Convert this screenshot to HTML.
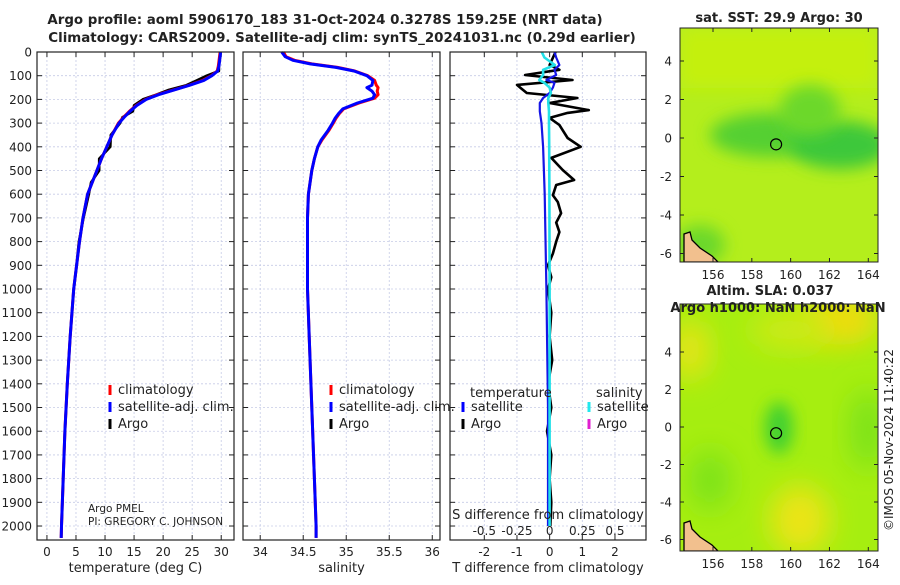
<!DOCTYPE html>
<html><head><meta charset="utf-8">
<style>
html,body{margin:0;padding:0;background:#fff;}
svg text{font-family:"DejaVu Sans","Liberation Sans",sans-serif;fill:#222;}
</style></head>
<body>
<svg id="fig" width="900" height="580" viewBox="0 0 900 580" xmlns="http://www.w3.org/2000/svg">
<defs>
<filter id="blur8" x="-50%" y="-50%" width="200%" height="200%"><feGaussianBlur stdDeviation="8"/></filter>
<filter id="blur14" x="-50%" y="-50%" width="200%" height="200%"><feGaussianBlur stdDeviation="14"/></filter>
<clipPath id="clipMap1"><rect x="680" y="28" width="198" height="234"/></clipPath>
<clipPath id="clipMap2"><rect x="680" y="304" width="198" height="247"/></clipPath>
</defs>
<text x="325" y="24" text-anchor="middle" font-weight="bold" font-size="13.4">Argo profile: aoml 5906170_183 31-Oct-2024 0.3278S 159.25E (NRT data)</text>
<text x="342" y="42" text-anchor="middle" font-weight="bold" font-size="13.4">Climatology: CARS2009. Satellite-adj clim: synTS_20241031.nc (0.29d earlier)</text>
<g id="panels"></g>
<g id="maps"></g>
<text transform="translate(893,440) rotate(-90)" text-anchor="middle" font-size="12">©IMOS 05-Nov-2024 11:40:22</text>
</svg>
<script>
// ---------- data ----------
const profDepth = [0,20,40,60,80,100,120,140,160,180,200,225,250,275,300,350,400,450,500,550,600,700,800,900,1000,1200,1400,1600,1800,2000,2050];
const tempClim  = [29.8,29.7,29.6,29.5,29.3,28.3,26.8,24.5,21.8,19.0,17.0,15.4,14.2,13.2,12.3,11.2,10.3,9.4,8.6,7.8,7.0,6.2,5.6,5.1,4.6,4.0,3.5,3.1,2.8,2.5,2.45];
const tempSat   = [29.9,29.8,29.7,29.6,29.4,28.4,27.0,24.6,21.9,19.2,17.1,15.5,14.3,13.3,12.4,11.2,10.3,9.4,8.6,7.8,7.0,6.2,5.6,5.1,4.6,4.0,3.5,3.1,2.8,2.5,2.45];
const tempArgo  = [29.9,29.8,29.7,29.6,29.6,27.5,25.8,24.0,21.0,18.8,16.5,15.0,14.8,13.0,12.6,11.0,10.9,9.0,9.0,7.6,7.2,6.3,5.5,5.1,4.6,4.0,3.5,3.1,2.8,2.5,2.45];
const salDepth  = [0,20,35,50,65,80,100,120,140,150,165,180,195,215,240,260,280,300,330,370,400,450,500,600,700,800,1000,1200,1500,1800,2000,2050];
const salClim   = [34.27,34.3,34.4,34.6,34.9,35.1,35.25,35.33,35.35,35.37,35.36,35.37,35.33,35.15,34.97,34.92,34.88,34.85,34.8,34.72,34.67,34.63,34.6,34.56,34.55,34.55,34.55,34.57,34.6,34.63,34.65,34.65];
const salSat    = [34.25,34.29,34.38,34.58,34.88,35.09,35.24,35.31,35.3,35.24,35.3,35.33,35.31,35.13,34.96,34.91,34.87,34.84,34.79,34.71,34.67,34.63,34.6,34.56,34.55,34.55,34.55,34.57,34.6,34.63,34.65,34.65];
const diffDepth = [0,55,75,97,118,139,150,173,194,215,245,257,278,308,363,400,447,498,540,561,604,633,680,720,760,800,850,900,950,1000,1100,1200,1300,1400,1500,1600,1700,1800,1900,2000];
const tDiffArgo = [0.18,0,0.3,-0.75,0.7,-1.0,-0.9,-0.7,0.85,0,1.2,0.55,0,0.3,0.55,0.95,0.05,0.4,0.75,0.2,0.1,0.25,0.35,0.2,0.3,0.2,0.1,-0.05,0.05,-0.05,0.05,0,0.08,-0.05,0.05,-0.08,0.05,0,0.05,0.02];
const satDepth  = [0,23,55,75,97,118,130,150,173,194,215,250,300,400,600,1000,1500,2000];
const tDiffSat  = [0.15,0.2,0.3,0.15,0.2,-0.1,0.15,0.1,0,-0.2,-0.3,-0.3,-0.25,-0.2,-0.15,-0.1,-0.05,-0.05];
const sDiffSat  = [-0.06,-0.04,0.04,-0.05,-0.05,-0.08,-0.04,0.0,0.01,-0.01,-0.01,-0.005,-0.005,-0.003,-0.002,0,0,0];
const depthTicks = [0,100,200,300,400,500,600,700,800,900,1000,1100,1200,1300,1400,1500,1600,1700,1800,1900,2000];
const tempTicks = [0,5,10,15,20,25,30];
const salTicks = [34,34.5,35,35.5,36];
const tdTicks = [-2,-1,0,1,2];
const sdTicks = [-0.5,-0.25,0,0.25,0.5];
const sdTickLabels = ["-0.5","-0.25","0","0.25","0.5"];
const latTicks = [4,2,0,-2,-4,-6];
const lonTicks = [156,158,160,162,164];

const NS="http://www.w3.org/2000/svg";
function mk(tag, attrs, parent){const e=document.createElementNS(NS,tag);for(const k in attrs)e.setAttribute(k,attrs[k]);parent.appendChild(e);return e;}
const Y0=52, Y1=540, DMAX=2059;
const ys = d => Y0 + d*(Y1-Y0)/DMAX;
function lin(d0,d1,r0,r1){return v=>r0+(v-d0)*(r1-r0)/(d1-d0);}

const panels=document.getElementById('panels');
const P=[
 {x0:37,x1:234,sc:lin(-1.71,32.2,37,234),ticks:tempTicks,name:'temperature-panel',title:'temperature (deg C)'},
 {x0:243,x1:440,sc:lin(33.8,36.09,243,440),ticks:salTicks,name:'salinity-panel',title:'salinity'},
 {x0:450,x1:646,sc:lin(-3.05,2.95,450,646),ticks:tdTicks,name:'difference-panel',title:'T difference from climatology'}
];
function path(xs, ds, sc, col, w, g, name){
  let d=''; for(let i=0;i<xs.length;i++){d+=(i?'L':'M')+sc(xs[i]).toFixed(1)+','+ys(ds[i]).toFixed(1);}
  const p=mk('path',{d:d,fill:'none',stroke:col,'stroke-width':w,'stroke-linejoin':'round'},g);
  
  
  return p;
}
P.forEach((p,pi)=>{
  const g=mk('g',{},panels);
  
  
  depthTicks.forEach(d=>{ if(d>0) mk('line',{x1:p.x0,x2:p.x1,y1:ys(d),y2:ys(d),stroke:'#c6cbe6','stroke-width':0.8,'stroke-dasharray':'2,2'},g);});
  p.ticks.forEach(t=>{ mk('line',{x1:p.sc(t),x2:p.sc(t),y1:Y0,y2:Y1,stroke:'#c6cbe6','stroke-width':0.8,'stroke-dasharray':'2,2'},g);});
  depthTicks.forEach(d=>{ mk('line',{x1:p.x0,x2:p.x0+5,y1:ys(d),y2:ys(d),stroke:'#222'},g); mk('line',{x1:p.x1,x2:p.x1-5,y1:ys(d),y2:ys(d),stroke:'#222'},g);});
  p.ticks.forEach(t=>{
    mk('line',{x1:p.sc(t),x2:p.sc(t),y1:Y1,y2:Y1-5,stroke:'#222'},g);
    mk('line',{x1:p.sc(t),x2:p.sc(t),y1:Y0,y2:Y0+5,stroke:'#222'},g);
    const tl=mk('text',{x:p.sc(t),y:556,'text-anchor':'middle','font-size':12},g); tl.textContent=String(t);
    
    
  });
  const xt=mk('text',{x:(p.x0+p.x1)/2,y:572,'text-anchor':'middle','font-size':13},g); xt.textContent=p.title;
  
  
  p.g=g;
});
depthTicks.forEach(d=>{
  const t=mk('text',{x:32,y:ys(d)+4.5,'text-anchor':'end','font-size':12},panels); t.textContent=String(d);
  
  
});
path(tempArgo,profDepth,P[0].sc,'#000',2.6,P[0].g,'temp-argo-line');
path(tempClim,profDepth,P[0].sc,'#f00',3,P[0].g,'temp-climatology-line');
path(tempSat,profDepth,P[0].sc,'#00f',3,P[0].g,'temp-satellite-line');
path(salClim,salDepth,P[1].sc,'#f00',3,P[1].g,'sal-climatology-line');
path(salSat,salDepth,P[1].sc,'#00f',3,P[1].g,'sal-satellite-line');
const sdsc = v => P[2].sc(v*4);
path(tDiffArgo,diffDepth,P[2].sc,'#000',2.6,P[2].g,'tdiff-argo-line');
path(tDiffSat,satDepth,P[2].sc,'#1515e6',2.2,P[2].g,'tdiff-satellite-line');
path(sDiffSat,satDepth,sdsc,'#22e0e8',2.6,P[2].g,'sdiff-satellite-line');
P.forEach(p=>{mk('rect',{x:p.x0,y:Y0,width:p.x1-p.x0,height:Y1-Y0,fill:'none',stroke:'#222','stroke-width':1.2},p.g);});
const g3=P[2].g;
let st=mk('text',{x:548,y:519,'text-anchor':'middle','font-size':13},g3); st.textContent='S difference from climatology';
 
sdTicks.forEach((v,i)=>{const t=mk('text',{x:sdsc(v),y:535,'text-anchor':'middle','font-size':12},g3);t.textContent=sdTickLabels[i];
   });
function leg(x,y,col,label,g,name){
  mk('line',{x1:x,x2:x,y1:y-7,y2:y+3,stroke:col,'stroke-width':3},g);
  const t=mk('text',{x:x+8,y:y+2,'font-size':13},g); t.textContent=label;
   
}
leg(110,392,'#f00','climatology',P[0].g,'legend-climatology');
leg(110,409,'#00f','satellite-adj. clim.',P[0].g,'legend-satellite-adj');
leg(110,426,'#000','Argo',P[0].g,'legend-argo');
leg(331,392,'#f00','climatology',P[1].g,'legend-climatology');
leg(331,409,'#00f','satellite-adj. clim.',P[1].g,'legend-satellite-adj');
leg(331,426,'#000','Argo',P[1].g,'legend-argo');
let lt=mk('text',{x:470,y:397,'font-size':13},g3); lt.textContent='temperature';
 
lt=mk('text',{x:596,y:397,'font-size':13},g3); lt.textContent='salinity';
 
leg(463,409,'#00f','satellite',g3,'legend-t-satellite');
leg(463,426,'#000','Argo',g3,'legend-t-argo');
leg(589,409,'#22e8ee','satellite',g3,'legend-s-satellite');
leg(589,426,'#e020d0','Argo',g3,'legend-s-argo');
let pi=mk('text',{x:88,y:512,'font-size':10.5},P[0].g); pi.textContent='Argo PMEL';
 
pi=mk('text',{x:88,y:525,'font-size':10.5},P[0].g); pi.textContent='PI: GREGORY C. JOHNSON';
 

const maps=document.getElementById('maps');
function map(top,bot,clip,kind,name){
  const g=mk('g',{},maps);
  
  
  const lonS=lin(154.3,164.5,680,878);
  const lat0=(kind==='sst')?{v4:61,v0:138}:{v4:352,v0:427};
  const latS=v=>lat0.v0+(lat0.v4-lat0.v0)*v/4;
  const c=mk('g',{'clip-path':'url(#'+clip+')'},g);
  if(kind==='sst'){
    mk('rect',{x:680,y:top,width:198,height:bot-top,fill:'#b4ee1c'},c);
    mk('rect',{x:680,y:top,width:198,height:60,fill:'#c4f010',filter:'url(#blur8)'},c);
    mk('ellipse',{cx:770,cy:135,rx:60,ry:22,fill:'#55d030',filter:'url(#blur8)'},c);
    mk('ellipse',{cx:840,cy:145,rx:50,ry:24,fill:'#3cc83a',filter:'url(#blur8)'},c);
    mk('ellipse',{cx:810,cy:110,rx:30,ry:25,fill:'#6cd82c',filter:'url(#blur8)'},c);
    mk('ellipse',{cx:700,cy:245,rx:25,ry:20,fill:'#6cd82c',filter:'url(#blur8)'},c);
  } else {
    mk('rect',{x:680,y:top,width:198,height:bot-top,fill:'#a6ee10'},c);
    mk('ellipse',{cx:840,cy:320,rx:40,ry:25,fill:'#f0dc10',filter:'url(#blur14)'},c);
    mk('ellipse',{cx:690,cy:350,rx:20,ry:30,fill:'#e6e414',filter:'url(#blur14)'},c);
    mk('ellipse',{cx:790,cy:330,rx:40,ry:20,fill:'#ccea14',filter:'url(#blur14)'},c);
    mk('ellipse',{cx:800,cy:520,rx:30,ry:35,fill:'#ece418',filter:'url(#blur14)'},c);
    mk('ellipse',{cx:710,cy:480,rx:20,ry:30,fill:'#7ae21c',filter:'url(#blur14)'},c);
    mk('ellipse',{cx:868,cy:430,rx:18,ry:40,fill:'#7ae21c',filter:'url(#blur14)'},c);
    mk('ellipse',{cx:779,cy:428,rx:14,ry:26,fill:'#40d030',filter:'url(#blur8)'},c);
  }
  const b=bot;
  mk('path',{d:`M684,${b-28} L690,${b-30} L692,${b-22} L700,${b-14} L712,${b-6} L718,${b} L684,${b} Z`,fill:'#f2c08e',stroke:'#000','stroke-width':1.3},c);
  const ac=mk('circle',{cx:lonS(159.25),cy:latS(-0.33),r:5.5,fill:'none',stroke:'#000','stroke-width':1.2},g);
  
  
  mk('rect',{x:680,y:top,width:198,height:bot-top,fill:'none',stroke:'#222','stroke-width':1},g);
  latTicks.forEach(v=>{
    mk('line',{x1:680,x2:684,y1:latS(v),y2:latS(v),stroke:'#222'},g);
    mk('line',{x1:878,x2:874,y1:latS(v),y2:latS(v),stroke:'#222'},g);
    const t=mk('text',{x:672,y:latS(v)+4.5,'text-anchor':'end','font-size':12},g); t.textContent=String(v);
     
  });
  lonTicks.forEach(v=>{
    mk('line',{x1:lonS(v),x2:lonS(v),y1:bot,y2:bot-4,stroke:'#222'},g);
    mk('line',{x1:lonS(v),x2:lonS(v),y1:top,y2:top+4,stroke:'#222'},g);
    const t=mk('text',{x:lonS(v),y:bot+17,'text-anchor':'middle','font-size':12},g); t.textContent=String(v);
     
  });
}
map(28,262,'clipMap1','sst','sst-map');
map(304,551,'clipMap2','sla','sla-map');
let mt=mk('text',{x:779,y:22,'text-anchor':'middle','font-weight':'bold','font-size':13},maps); mt.textContent='sat. SST: 29.9 Argo: 30';
 
mt=mk('text',{x:770,y:295,'text-anchor':'middle','font-weight':'bold','font-size':13},maps); mt.textContent='Altim. SLA: 0.037';
 
mt=mk('text',{x:778,y:312,'text-anchor':'middle','font-weight':'bold','font-size':13},maps); mt.textContent='Argo h1000: NaN h2000: NaN';
 
</script>
</body></html>
